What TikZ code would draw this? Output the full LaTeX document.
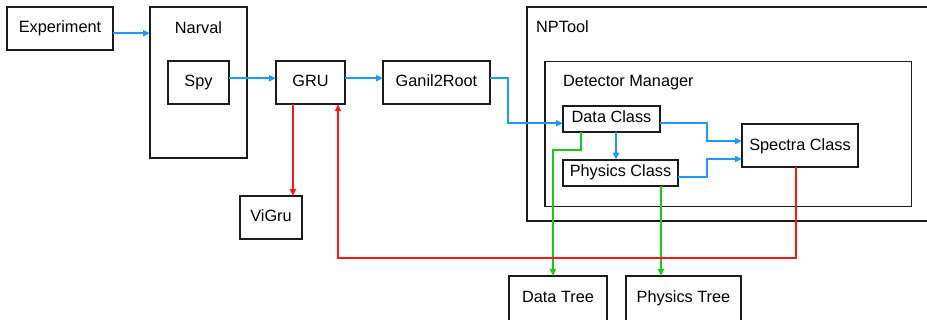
\documentclass[tikz,border=0pt]{standalone}
\usepackage{fontspec}
\setmainfont{Liberation Sans}
\usepackage{tikz}
\usetikzlibrary{
    positioning,
    arrows.meta
}
\definecolor{FlowBlue}{RGB}{28,152,255}
\definecolor{FlowRed}{RGB}{248,24,24}
\definecolor{FlowGreen}{RGB}{24,204,24}
\definecolor{EdgeGray}{RGB}{28,28,28}

\begin{document}
\begin{tikzpicture}[
    x=1pt, y=-1pt,
    node distance=37pt,
    box/.style={rectangle, draw=EdgeGray, line width=1.8pt, inner sep=0pt, outer sep=0pt, font=\fontsize{16.3}{19}\selectfont, text height=12pt, text depth=3.5pt, minimum height=43pt},
    frame/.style={rectangle, draw=EdgeGray, line width=1.8pt, inner sep=0pt, outer sep=0pt},
    lbl/.style={inner sep=0pt, font=\fontsize{16.3}{19}\selectfont},
    arr/.style={line width=1.7pt, -{Triangle[length=7pt, width=6pt]}},
]
\useasboundingbox (0,0) rectangle (927,320);

% frames
\node[frame, minimum width=413pt, minimum height=214pt] (npt) at (733.5,114) {};
\node[frame, minimum width=366.5pt, minimum height=145pt] (dm) at (728.25,134) {};
\node[lbl, anchor=base west] (nptlbl) at ([xshift=9pt, yshift=-26pt]npt.north west) {NPTool};
\node[lbl, anchor=base west] (dmlbl) at ([xshift=18pt, yshift=-25.5pt]dm.north west) {Detector Manager};

% boxes
\node[box, minimum width=106pt] (exp) at (60,28.7) {Experiment};
\node[box, minimum width=61pt] (spy) at (198.5,82.7) {Spy};
\node[frame, minimum width=97pt, minimum height=151pt] (narval) at (spy) {};
\node[lbl, anchor=base] (narvallbl) at ([yshift=-26pt]narval.north) {Narval};
\node[box, minimum width=69pt, right=47pt of spy] (gru) {GRU};
\node[box, minimum width=107pt, right=38pt of gru] (g2r) {Ganil2Root};
\node[box, minimum width=62pt] (vigru) at (271,217.5) {ViGru};
\node[box, minimum width=97pt, minimum height=26pt] (dc) at (611.5,118.7) {Data Class};
\node[box, minimum width=115pt, minimum height=26pt, below=28pt of dc.south west, anchor=north west] (pc) {Physics Class};
\node[box, minimum width=116pt] (sc) at (800,145.8) {Spectra Class};
\node[box, minimum width=98pt, minimum height=45pt] (dtree) at (558,298.5) {Data Tree};
\node[box, minimum width=115pt, minimum height=45pt, right=19pt of dtree] (ptree) {Physics Tree};

% data flow
\draw[arr, FlowBlue] ([yshift=-4.5pt]exp.east) -- ([yshift=-4.5pt]exp.east -| narval.west);
\draw[arr, FlowBlue] ([yshift=4.5pt]spy.east) -- ([yshift=4.5pt]gru.west);
\draw[arr, FlowBlue] ([yshift=4.5pt]gru.east) -- ([yshift=4.5pt]g2r.west);
\draw[arr, FlowBlue] ([yshift=4.5pt]g2r.east) -- ++(18,0) |- ([yshift=-4.5pt]dc.west);
\draw[arr, FlowBlue] ([yshift=-4.5pt]dc.east) -- ++(47,0) |- ([yshift=4.8pt]sc.west);
\draw[arr, FlowBlue] ([yshift=-4pt]pc.east) -- ++(29,0) |- ([yshift=-13.2pt]sc.west);
\draw[arr, FlowBlue] ([xshift=4.5pt]dc.south) -- ([xshift=-4.5pt]pc.north);
\draw[arr, FlowGreen] ([xshift=-30.5pt]dc.south) -- ++(0,18) -| ([xshift=-5pt]dtree.north);
\draw[arr, FlowGreen] ([xshift=40.5pt]pc.south) -- ([xshift=-22.5pt]ptree.north);
\draw[arr, FlowRed] ([xshift=-4pt]sc.south) -- ++(0,90.5) -| ([xshift=27.5pt]gru.south);
\draw[arr, FlowRed] ([xshift=-17.5pt]gru.south) -- ([xshift=22pt]vigru.north);
\end{tikzpicture}
\end{document}
